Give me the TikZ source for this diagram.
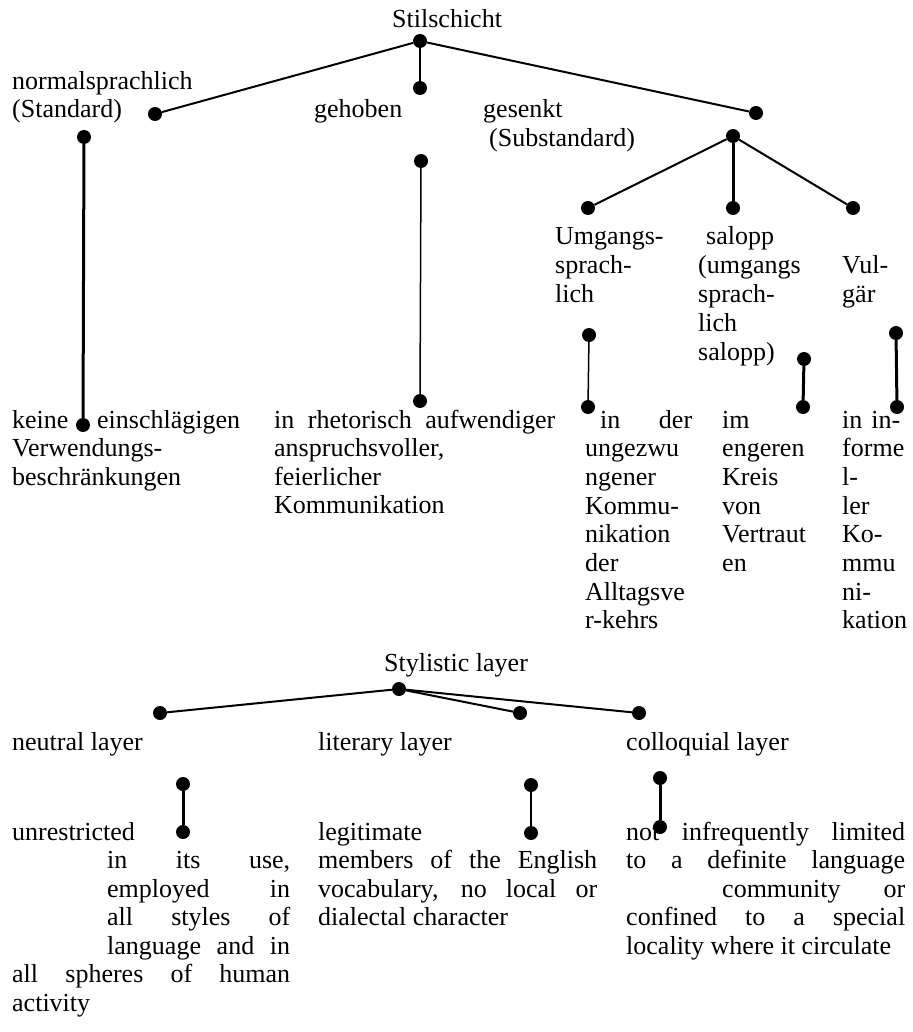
\documentclass[tikz,border=0pt]{standalone}
\usepackage{fontspec}
\setmainfont{Liberation Serif}
\newcommand\jl[2]{\makebox[#1pt][s]{#2}}
\begin{document}
\begin{tikzpicture}[x=1pt,y=-1pt,
  lbl/.style={anchor=base west,inner sep=0pt,font=\fontsize{26}{29}\selectfont},
  dot/.style={circle,fill=black,inner sep=0pt,minimum size=14pt},
  lnA/.style={line width=2pt},
  lnB/.style={line width=3pt},
  lnC/.style={line width=1.5pt}]
\useasboundingbox (0,0) rectangle (912,1032);
% ---------- top tree labels
\node[lbl] (stil) at (392,28) {Stilschicht};
\node[lbl] (norm1) at (12,90) {normalsprachlich};
\node[lbl] (norm2) at (12,118) {(Standard)};
\node[lbl] (geh) at (314,118) {gehoben};
\node[lbl] (ges1) at (483,118) {gesenkt};
\node[lbl] (ges2) at (489,147) {(Substandard)};
\node[lbl] (umg1) at (555,244) {Umgangs-};
\node[lbl] (umg2) at (555,273) {sprach-};
\node[lbl] (umg3) at (555,302) {lich};
\node[lbl] (sal1) at (706,244) {salopp};
\node[lbl] (sal2) at (698,273) {(umgangs};
\node[lbl] (sal3) at (698,302) {sprach-};
\node[lbl] (sal4) at (698,331) {lich};
\node[lbl] (sal5) at (698,360) {salopp)};
\node[lbl] (vul1) at (842,273) {Vul-};
\node[lbl] (vul2) at (842,302) {gär};
% ---------- top descriptions
\node[lbl] (k1a) at (12,428) {keine};
\node[lbl] (k1b) at (97,428) {einschlägigen};
\node[lbl] (k2) at (12,456.5) {Verwendungs-};
\node[lbl] (k3) at (12,485) {beschränkungen};
\node[lbl] (r1) at (274,428) {\jl{281}{in rhetorisch aufwendiger}};
\node[lbl] (r2) at (274,456.5) {anspruchsvoller,};
\node[lbl] (r3) at (274,485) {feierlicher};
\node[lbl] (r4) at (274,513.5) {Kommunikation};
\node[lbl] (u1) at (600,428) {\jl{92}{in der}};
\node[lbl] (u2) at (585,456.7) {ungezwu};
\node[lbl] (u3) at (585,485.4) {ngener};
\node[lbl] (u4) at (585,514.1) {Kommu-};
\node[lbl] (u5) at (585,542.8) {nikation};
\node[lbl] (u6) at (585,571.5) {der};
\node[lbl] (u7) at (585,600.2) {Alltagsve};
\node[lbl] (u8) at (585,628.9) {r-kehrs};
\node[lbl] (s1) at (722,428) {im};
\node[lbl] (s2) at (722,456.7) {engeren};
\node[lbl] (s3) at (722,485.4) {Kreis};
\node[lbl] (s4) at (722,514.1) {von};
\node[lbl] (s5) at (722,542.8) {Vertraut};
\node[lbl] (s6) at (722,571.5) {en};
\node[lbl] (v1) at (842,428) {\jl{58}{in in-}};
\node[lbl] (v2) at (842,456.7) {forme};
\node[lbl] (v3) at (842,485.4) {l-};
\node[lbl] (v4) at (842,514.1) {ler};
\node[lbl] (v5) at (842,542.8) {Ko-};
\node[lbl] (v6) at (842,571.5) {mmu};
\node[lbl] (v7) at (842,600.2) {ni-};
\node[lbl] (v8) at (842,628.9) {kation};
% ---------- bottom tree labels
\node[lbl] (sty) at (384,671) {Stylistic layer};
\node[lbl] (neu) at (12,750) {neutral layer};
\node[lbl] (lit) at (318,750) {literary layer};
\node[lbl] (col) at (626,750) {colloquial layer};
% ---------- bottom descriptions
\node[lbl] (n1) at (12,840) {unrestricted};
\node[lbl] (n2) at (107,868.5) {\jl{183}{in its use,}};
\node[lbl] (n3) at (107,897) {\jl{183}{employed in}};
\node[lbl] (n4) at (107,925.5) {\jl{183}{all styles of}};
\node[lbl] (n5) at (107,954) {\jl{183}{language and in}};
\node[lbl] (n6) at (12,982.5) {\jl{278}{all spheres of human}};
\node[lbl] (n7) at (12,1011) {activity};
\node[lbl] (l1) at (318,840) {legitimate};
\node[lbl] (l2) at (318,868.5) {\jl{279}{members of the English}};
\node[lbl] (l3) at (318,897) {\jl{279}{vocabulary, no local or}};
\node[lbl] (l4) at (318,925.5) {dialectal character};
\node[lbl] (c1) at (626,840) {\jl{279}{not infrequently limited}};
\node[lbl] (c2) at (626,868.5) {\jl{279}{to a definite language}};
\node[lbl] (c3) at (722,897) {\jl{183}{community or}};
\node[lbl] (c4) at (626,925.5) {\jl{279}{confined to a special}};
\node[lbl] (c5) at (626,954) {locality where it circulate};
% ---------- dots top
\node[dot] (R) at (420,41) {};
\node[dot] (A1) at (155,114) {};
\node[dot] (A2) at (420,88) {};
\node[dot] (A3) at (756,113) {};
\node[dot] (B1) at (84,137) {};
\node[dot] (B1b) at (83,425) {};
\node[dot] (B2) at (421,161) {};
\node[dot] (B2b) at (420,401) {};
\node[dot] (C) at (733,136) {};
\node[dot] (D1) at (588,208) {};
\node[dot] (D2) at (733,208) {};
\node[dot] (D3) at (853,208) {};
\node[dot] (E1) at (589,335) {};
\node[dot] (E1b) at (588,407) {};
\node[dot] (E2) at (804,359) {};
\node[dot] (E2b) at (803,407) {};
\node[dot] (E3) at (896,333) {};
\node[dot] (E3b) at (897,407) {};
% ---------- dots bottom
\node[dot] (S) at (399,689) {};
\node[dot] (L1) at (160,713) {};
\node[dot] (L2) at (520,713) {};
\node[dot] (L3) at (639,713) {};
\node[dot] (F1) at (183,784) {};
\node[dot] (F1b) at (183,832) {};
\node[dot] (F2) at (531,785) {};
\node[dot] (F2b) at (531,833) {};
\node[dot] (F3) at (660,778) {};
\node[dot] (F3b) at (660,827) {};
% ---------- connectors
\draw[lnA] (R) -- (A1);
\draw[lnC] (R) -- (A2);
\draw[lnA] (R) -- (A3);
\draw[lnB] (B1) -- (B1b);
\draw[lnC] (B2) -- (B2b);
\draw[lnA] (C) -- (D1);
\draw[lnB] (C) -- (D2);
\draw[lnA] (C) -- (D3);
\draw[lnC] (E1) -- (E1b);
\draw[lnB] (E2) -- (E2b);
\draw[lnB] (E3) -- (E3b);
\draw[lnA] (S) -- (L1);
\draw[lnA] (S) -- (L2);
\draw[lnA] (S) -- (L3);
\draw[lnB] (F1) -- (F1b);
\draw[lnC] (F2) -- (F2b);
\draw[lnB] (F3) -- (F3b);
\end{tikzpicture}
\end{document}
